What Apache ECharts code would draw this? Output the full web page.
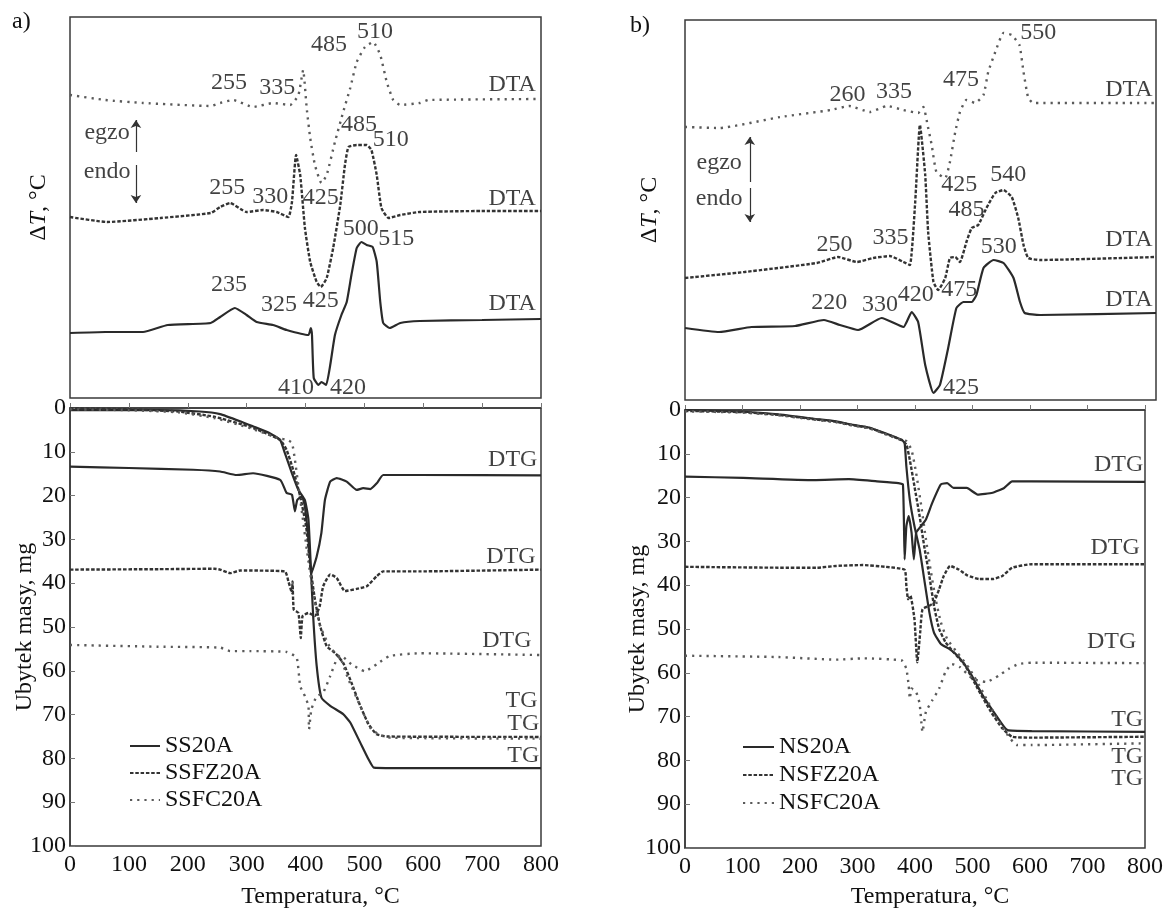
<!DOCTYPE html>
<html>
<head>
<meta charset="utf-8">
<script src="https://cdn.jsdelivr.net/npm/echarts@6/dist/echarts.min.js"></script>
<style>html,body{margin:0;padding:0;background:#fff}#c{width:1166px;height:910px}</style>
</head>
<body>
<div id="c"></div>
<script>
// ---------- Data (temperature °C, value) ----------
// Panel a) – DTA (arbitrary ΔT units)
var a_SS20A_DTA = [[0,6.5],[60,6.6],[124,6.6],[166,7.3],[239,7.5],[255,8.1],[280,9.0],[300,8.3],[317,7.6],[345,7.3],[368,6.8],[405,6.3],[409,7.0],[411,6.3],[414,2.0],[422,1.3],[427,1.6],[435,1.3],[442,3.3],[450,6.3],[461,8.3],[470,9.6],[478,12.3],[487,15.0],[495,15.6],[504,15.3],[514,15.1],[521,13.6],[527,9.6],[532,7.5],[543,7.0],[561,7.5],[594,7.7],[700,7.8],[800,7.9]];
var a_SSFZ20A_DTA = [[0,18.1],[63,17.6],[154,18.0],[239,18.5],[255,19.1],[272,19.5],[300,18.6],[328,18.8],[351,18.6],[371,18.1],[377,19.6],[384,24.3],[391,22.3],[399,17.0],[408,13.6],[419,11.6],[426,11.1],[436,12.0],[447,15.0],[459,19.3],[467,23.3],[473,25.1],[487,25.3],[504,25.3],[512,24.8],[521,22.3],[529,19.0],[541,18.0],[561,18.3],[594,18.6],[700,18.7],[800,18.7]];
var a_SSFC20A_DTA = [[0,30.3],[60,29.8],[124,29.5],[239,29.2],[255,29.5],[277,29.8],[311,29.1],[345,29.5],[374,29.3],[388,30.3],[396,32.8],[402,29.0],[408,26.0],[416,23.3],[427,21.5],[436,22.3],[450,25.6],[464,28.6],[476,31.0],[487,33.6],[501,35.1],[515,35.6],[527,34.3],[538,31.6],[549,29.8],[561,29.3],[594,29.5],[609,29.8],[800,29.9]];
// Panel a) – TG / DTG (mass loss, mg)
var a_SS20A_TG = [[0,0.5],[150,0.5],[220,0.8],[255,1.4],[294,3.3],[311,4.2],[340,5.8],[357,7.3],[365,10.3],[377,14.9],[388,18.7],[399,21.0],[405,25.5],[409,36.1],[413,47.5],[419,58.9],[427,66.1],[442,68.0],[464,69.9],[476,71.8],[493,76.4],[507,80.2],[516,82.1],[549,82.2],[800,82.2]];
var a_SSFZ20A_TG = [[0,0.1],[100,0.3],[184,0.8],[245,2.0],[306,4.3],[357,7.3],[368,9.6],[379,14.1],[391,20.2],[401,27.0],[408,36.1],[416,43.7],[425,49.8],[436,54.4],[450,55.9],[464,58.2],[478,62.7],[493,68.0],[507,72.2],[521,74.5],[538,75.0],[800,75.1]];
var a_SSFC20A_TG = [[0,0.3],[100,0.5],[184,1.0],[245,2.3],[306,4.6],[357,7.0],[368,7.2],[377,8.0],[382,11.8],[388,17.9],[395,24.8],[403,33.1],[413,42.2],[425,49.8],[442,54.7],[459,57.0],[473,62.0],[493,68.0],[510,73.0],[527,74.7],[545,75.3],[800,75.5]];
var a_SS20A_DTG = [[0,13.4],[100,13.7],[209,14.1],[255,14.5],[283,15.3],[311,14.9],[357,16.4],[368,19.4],[377,19.8],[382,23.6],[386,21.0],[394,20.2],[399,22.5],[405,30.1],[410,37.7],[419,33.9],[427,28.5],[433,21.0],[442,16.8],[453,16.0],[470,16.8],[487,18.7],[498,18.3],[510,18.5],[521,17.2],[532,15.3],[594,15.3],[800,15.4]];
var a_SSFZ20A_DTG = [[0,36.9],[150,36.8],[245,36.7],[255,36.9],[272,37.7],[289,37.1],[365,37.3],[371,39.6],[377,42.2],[378,39.6],[380,46.0],[388,46.8],[392,52.5],[395,47.5],[405,46.8],[416,47.5],[424,45.3],[430,40.7],[442,38.0],[453,38.8],[467,41.8],[487,41.3],[504,40.7],[521,38.4],[532,37.3],[594,37.3],[800,36.9]];
var a_SSFC20A_DTG = [[0,54.1],[150,54.5],[255,54.7],[272,55.5],[306,55.5],[368,55.7],[385,57.0],[391,63.5],[399,65.8],[405,68.0],[406,73.3],[410,68.8],[419,65.8],[430,65.0],[442,61.2],[453,57.4],[461,56.6],[478,58.5],[501,60.1],[521,58.5],[543,56.6],[594,56.0],[800,56.4]];

// Panel b) – DTA
var b_NS20A_DTA = [[0,7.2],[58,6.8],[113,7.3],[187,7.4],[236,8.0],[263,7.5],[294,7.0],[334,8.2],[371,7.3],[385,8.8],[396,7.8],[408,3.5],[422,0.7],[433,1.5],[447,5.2],[461,9.2],[473,9.8],[487,9.8],[495,10.5],[507,13.2],[524,14.0],[541,13.7],[558,12.2],[569,9.8],[577,8.7],[603,8.5],[800,8.7]];
var b_NSFZ20A_DTA = [[0,12.2],[101,12.8],[224,13.7],[260,14.3],[292,13.8],[320,14.2],[348,14.4],[371,13.8],[382,13.5],[391,19.8],[399,27.5],[408,22.5],[413,16.8],[422,11.8],[430,11.0],[442,12.2],[450,14.2],[459,14.3],[467,13.8],[478,15.8],[487,17.2],[498,17.5],[512,19.2],[527,20.7],[541,21.0],[555,20.3],[566,18.2],[575,15.5],[583,14.2],[603,14.0],[800,14.3]];
var b_NSFC20A_DTA = [[0,27.3],[58,27.2],[162,28.3],[248,29.0],[279,29.4],[314,28.8],[343,29.4],[371,29.0],[396,28.7],[405,29.3],[412,27.5],[419,25.5],[427,22.8],[442,22.2],[450,23.8],[459,26.8],[467,28.8],[478,30.0],[493,29.7],[507,30.5],[515,32.8],[527,34.8],[541,36.7],[555,36.5],[568,35.5],[575,32.8],[583,30.2],[592,29.7],[800,29.7]];
// Panel b) – TG / DTG
var b_NS20A_TG = [[0,0],[101,0.4],[162,1.0],[224,2.0],[263,2.6],[285,3.2],[320,4.0],[346,5.2],[377,6.8],[382,7.6],[385,12.9],[391,20.5],[399,26.5],[408,31.8],[416,38.6],[425,46.2],[433,50.8],[445,53.4],[459,54.5],[476,56.4],[495,59.8],[518,65.2],[541,69.7],[561,73.1],[603,73.3],[800,73.5]];
var b_NSFZ20A_TG = [[0,0.2],[101,0.5],[162,1.1],[224,2.1],[263,2.7],[285,3.3],[320,4.1],[346,5.3],[377,6.9],[385,7.9],[391,11.4],[399,17.4],[408,24.2],[416,31.1],[425,37.9],[433,44.7],[442,50.0],[453,53.0],[467,55.3],[487,58.3],[509,63.6],[532,68.9],[552,72.7],[569,74.6],[603,74.8],[800,74.6]];
var b_NSFC20A_TG = [[0,0.3],[101,0.6],[162,1.2],[224,2.2],[263,2.8],[285,3.4],[320,4.2],[346,5.4],[377,6.9],[385,7.1],[394,9.1],[402,14.4],[411,22.0],[419,29.5],[427,36.4],[436,43.2],[445,48.5],[456,52.3],[473,55.3],[495,59.1],[518,64.4],[541,70.1],[561,74.2],[577,76.5],[603,76.5],[800,76.1]];
var b_NS20A_DTG = [[0,15.2],[101,15.5],[224,16.0],[285,15.8],[334,16.3],[371,16.7],[379,17.0],[382,34.1],[385,26.5],[389,24.2],[394,28.0],[398,34.1],[402,28.0],[408,26.9],[419,25.0],[430,21.2],[445,17.0],[456,16.7],[467,17.8],[490,17.8],[509,19.3],[535,18.9],[555,17.8],[569,16.3],[603,16.3],[800,16.4]];
var b_NSFZ20A_DTG = [[0,35.8],[162,36.0],[230,36.0],[263,35.6],[309,35.4],[348,35.8],[382,36.5],[385,40.2],[388,43.2],[392,42.4],[399,47.7],[404,57.6],[409,50.8],[413,45.5],[425,44.7],[433,43.9],[442,40.9],[450,37.9],[461,35.6],[476,36.4],[490,37.7],[512,38.6],[535,38.6],[552,37.9],[569,36.0],[603,35.2],[800,35.2]];
var b_NSFC20A_DTG = [[0,56.1],[162,56.4],[263,57.0],[309,56.7],[377,57.2],[385,59.1],[389,62.9],[391,65.9],[394,63.6],[402,64.4],[408,67.0],[413,73.5],[419,68.9],[430,66.3],[442,63.6],[453,59.8],[464,58.0],[478,58.7],[501,61.4],[524,62.1],[546,60.6],[563,59.1],[580,58.0],[603,57.7],[800,57.8]];

// Annotations [temperature, value, text]
var a_top_labels = [[518,36.6,'510'],[440,35.3,'485'],[270,31.5,'255'],[352,31.0,'335'],[751,31.3,'DTA'],[491,27.3,'485'],[545,25.8,'510'],[267,21.0,'255'],[340,20.1,'330'],[426,20.0,'425'],[751,19.9,'DTA'],[494,16.9,'500'],[554,15.9,'515'],[270,11.3,'235'],[355,9.3,'325'],[426,9.7,'425'],[751,9.4,'DTA'],[384,1.0,'410'],[472,1.0,'420'],[63,26.5,'egzo'],[63,22.6,'endo']];
var b_top_labels = [[600,36.7,'550'],[469,32.0,'475'],[276,30.5,'260'],[355,30.8,'335'],[754,31.0,'DTA'],[466,21.5,'425'],[549,22.5,'540'],[478,19.0,'485'],[254,15.5,'250'],[349,16.2,'335'],[754,16.0,'DTA'],[533,15.3,'530'],[245,9.7,'220'],[331,9.5,'330'],[392,10.5,'420'],[466,11.0,'475'],[754,10.0,'DTA'],[469,1.2,'425'],[58,23.7,'egzo'],[58,20.1,'endo']];
var a_bot_labels = [[752,11.8,'DTG'],[749,34.0,'DTG'],[742,53.2,'DTG'],[767,66.9,'TG'],[770,72.1,'TG'],[770,79.3,'TG']];
var b_bot_labels = [[754,12.5,'DTG'],[748,31.4,'DTG'],[742,53.0,'DTG'],[769,70.8,'TG'],[769,79.2,'TG'],[769,84.1,'TG']];
// egzo / endo arrows [temperature, from, to]
var a_arrows = [[112,24.6,27.8],[112,23.3,19.5]];
var b_arrows = [[110,21.8,26.3],[110,21.2,17.8]];

var xTicks = {min:0, max:800, interval:100};
var yTicks = {min:0, max:100, interval:10};
var legendA = ['SS20A','SSFZ20A','SSFC20A'];
var legendB = ['NS20A','NSFZ20A','NSFC20A'];

// ---------- Chart ----------
var FONT = "'Liberation Serif','DejaVu Serif',serif";
var FS = 24;
var TXT = '#111';
var styles = {
  solid:  {color:'#2a2a2a', width:2.2, type:'solid'},
  dashed: {color:'#333333', width:2.4, type:[3.5,1.8]},
  dotted: {color:'#5a5a5a', width:2.4, type:[2.2,5]}
};
function ln(name, data, st, idx){
  return {type:'line', name:name, data:data, xAxisIndex:idx, yAxisIndex:idx, symbol:'none', smooth:0.15,
    lineStyle:styles[st], itemStyle:{color:styles[st].color}, silent:true, animation:false};
}
function labels(arr, idx){
  return {type:'scatter', name:'lab'+idx, xAxisIndex:idx, yAxisIndex:idx, symbolSize:1, silent:true, animation:false,
    itemStyle:{color:'rgba(0,0,0,0)'},
    data:arr.map(function(d){return {value:[d[0],d[1]], name:d[2]};}),
    label:{show:true, position:'inside', formatter:'{b}', fontSize:FS, fontFamily:FONT, color:TXT}};
}
function arrows(arr, idx){
  return {type:'lines', coordinateSystem:'cartesian2d', xAxisIndex:idx, yAxisIndex:idx, silent:true, animation:false,
    symbol:['none','arrow'], symbolSize:8,
    lineStyle:{color:'#333', width:1.2, opacity:1},
    data:arr.map(function(d){return {coords:[[d[0],d[1]],[d[0],d[2]]]};})};
}
var dtName = {name:'{a|Δ}{b|T}{a|, °C}', nameLocation:'middle', nameMoveOverlap:false,
  nameTextStyle:{rich:{a:{fontSize:FS,fontFamily:FONT,color:TXT},b:{fontSize:FS,fontFamily:FONT,fontStyle:'italic',color:TXT}}}};
function topY(idx, max, gap){
  return Object.assign({type:'value', gridIndex:idx, min:0, max:max, nameGap:gap,
    axisLine:{show:false}, axisTick:{show:false}, axisLabel:{show:false}, splitLine:{show:false}}, dtName);
}
function botY(idx, gap){
  return {type:'value', gridIndex:idx, inverse:true, min:yTicks.min, max:yTicks.max, interval:yTicks.interval,
    name:'Ubytek masy, mg', nameLocation:'middle', nameGap:gap, nameMoveOverlap:false,
    nameTextStyle:{fontSize:FS, fontFamily:FONT, color:TXT},
    axisLine:{show:true, lineStyle:{color:'#3a3a3a', width:1.5}},
    axisTick:{show:true, inside:true, length:5, lineStyle:{color:'#777'}},
    axisLabel:{fontSize:FS, fontFamily:FONT, color:TXT, margin:4},
    splitLine:{show:false}};
}
function botX(idx, gap){
  return {type:'value', gridIndex:idx, min:xTicks.min, max:xTicks.max, interval:xTicks.interval,
    name:'Temperatura, °C', nameLocation:'middle', nameGap:gap, nameMoveOverlap:false,
    nameTextStyle:{fontSize:FS, fontFamily:FONT, color:TXT, padding:[0,0,0,30]},
    axisLine:{show:true, lineStyle:{color:'#3a3a3a', width:1.5}},
    axisTick:{show:true, inside:true, length:5, lineStyle:{color:'#777'}},
    axisLabel:{fontSize:FS, fontFamily:FONT, color:TXT, margin:7},
    splitLine:{show:false}};
}
var gridBase = {show:true, borderColor:'#3a3a3a', borderWidth:1.5, backgroundColor:'transparent', containLabel:false};
var legendBase = {orient:'vertical', itemHeight:12, selectedMode:false, itemStyle:{opacity:0},
  textStyle:{fontSize:FS, fontFamily:FONT, color:TXT}};
var option = {
  backgroundColor:'#fff',
  textStyle:{fontFamily:FONT},
  animation:false,
  grid:[
    Object.assign({left:70, top:17, width:471, height:381}, gridBase),
    Object.assign({left:70, top:408, width:471, height:439}, gridBase),
    Object.assign({left:685, top:20, width:471, height:380}, gridBase),
    Object.assign({left:685, top:410, width:471, height:440}, gridBase)
  ],
  xAxis:[
    {type:'value', gridIndex:0, min:0, max:800, show:false},
    botX(1, 39),
    {type:'value', gridIndex:2, min:0, max:800, show:false},
    botX(3, 37)
  ],
  yAxis:[
    topY(0, 38.1, 19),
    botY(1, 33),
    topY(2, 38, 23),
    botY(3, 35)
  ],
  legend:[
    Object.assign({data:legendA, left:124, top:729, itemWidth:30, itemGap:3}, legendBase),
    Object.assign({data:legendB, left:737, top:730, itemWidth:31, itemGap:4}, legendBase)
  ],
  graphic:[
    {type:'text', left:12, top:10, style:{text:'a)', font:FS+'px '+FONT, fill:TXT}},
    {type:'text', left:630, top:14, style:{text:'b)', font:FS+'px '+FONT, fill:TXT}}
  ],
  series:[
    ln('SS20A', a_SS20A_DTA, 'solid', 0),
    ln('SSFZ20A', a_SSFZ20A_DTA, 'dashed', 0),
    ln('SSFC20A', a_SSFC20A_DTA, 'dotted', 0),
    ln('SS20A', a_SS20A_TG, 'solid', 1),
    ln('SSFZ20A', a_SSFZ20A_TG, 'dashed', 1),
    ln('SSFC20A', a_SSFC20A_TG, 'dotted', 1),
    ln('SS20A', a_SS20A_DTG, 'solid', 1),
    ln('SSFZ20A', a_SSFZ20A_DTG, 'dashed', 1),
    ln('SSFC20A', a_SSFC20A_DTG, 'dotted', 1),
    ln('NS20A', b_NS20A_DTA, 'solid', 2),
    ln('NSFZ20A', b_NSFZ20A_DTA, 'dashed', 2),
    ln('NSFC20A', b_NSFC20A_DTA, 'dotted', 2),
    ln('NS20A', b_NS20A_TG, 'solid', 3),
    ln('NSFZ20A', b_NSFZ20A_TG, 'dashed', 3),
    ln('NSFC20A', b_NSFC20A_TG, 'dotted', 3),
    ln('NS20A', b_NS20A_DTG, 'solid', 3),
    ln('NSFZ20A', b_NSFZ20A_DTG, 'dashed', 3),
    ln('NSFC20A', b_NSFC20A_DTG, 'dotted', 3),
    labels(a_top_labels, 0),
    labels(a_bot_labels, 1),
    labels(b_top_labels, 2),
    labels(b_bot_labels, 3),
    arrows(a_arrows, 0),
    arrows(b_arrows, 2)
  ]
};
var chart = echarts.init(document.getElementById('c'), null, {renderer:'canvas'});
chart.setOption(option);
</script>
</body>
</html>
